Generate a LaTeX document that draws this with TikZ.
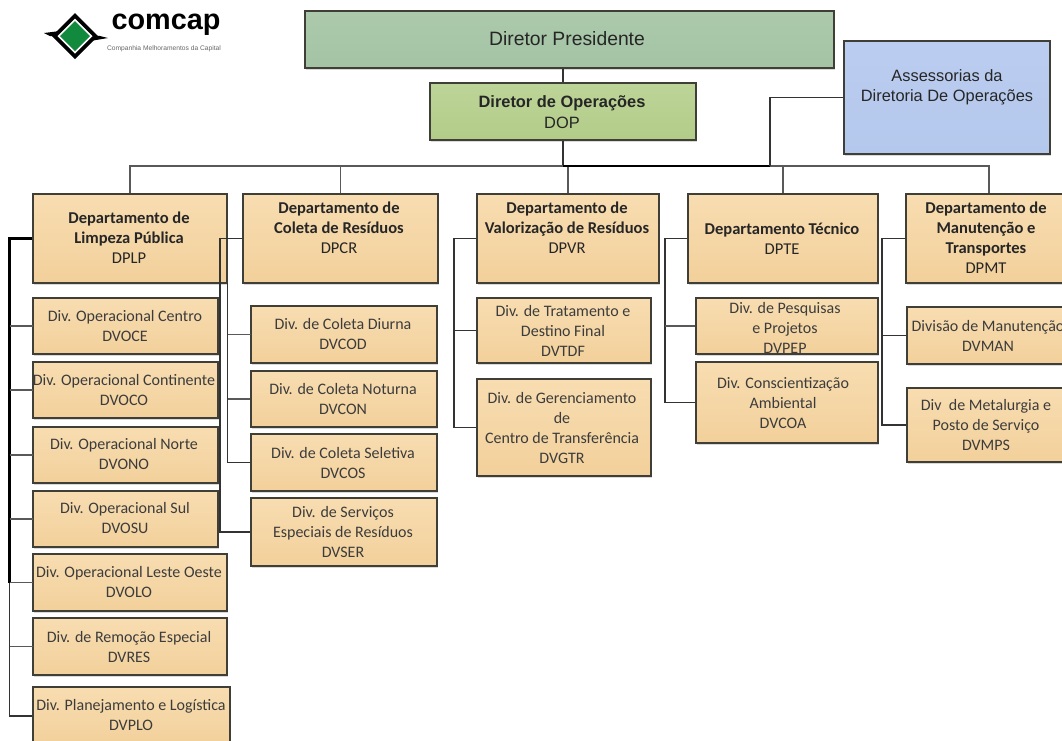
\documentclass[tikz,border=0pt]{standalone}
\usepackage{fontspec}
\setmainfont{Carlito}
\newfontfamily\arialfont{Liberation Sans}
\usetikzlibrary{fit,positioning,shadows}
\definecolor{tanT}{HTML}{F8DDB1}
\definecolor{tanM}{HTML}{F5D6A5}
\definecolor{tanB}{HTML}{F2D09B}
\definecolor{presT}{HTML}{ACC9AC}
\definecolor{presB}{HTML}{A4C3A4}
\definecolor{dopT}{HTML}{BDD498}
\definecolor{dopB}{HTML}{B2CC88}
\definecolor{assT}{HTML}{BBCDF0}
\definecolor{assB}{HTML}{B4C8ED}
\definecolor{logogreen}{HTML}{128A3E}
\definecolor{edgegray}{HTML}{3F3F38}
\definecolor{txtgray}{HTML}{3C3C3C}
\tikzset{
  orgbox/.style={draw=edgegray, line width=1.4pt, inner sep=0pt,
    drop shadow={shadow xshift=1pt, shadow yshift=-1.6pt, opacity=0.3}},
  tanbox/.style={orgbox, top color=tanT, middle color=tanM, bottom color=tanB},
  presbox/.style={orgbox, top color=presT, bottom color=presB},
  dopbox/.style={orgbox, top color=dopT, bottom color=dopB},
  assbox/.style={orgbox, top color=assT, bottom color=assB},
  deptxt/.style={align=center, inner sep=0pt, text=black!85, font=\fontsize{12.4}{15}\selectfont\bfseries},
  divtxt/.style={align=center, inner sep=0pt, text=txtgray, font=\fontsize{12}{15}\selectfont},
  toptxt/.style={align=center, inner sep=0pt, text=black!85, font=\arialfont\fontsize{12.3}{15.2}\selectfont},
  link/.style={draw=black!80, line width=1pt},
  thinlink/.style={draw=black!65, line width=1pt},
  boldlink/.style={draw=black, line width=1.9pt}
}
\begin{document}
\begin{tikzpicture}[x=0.75pt,y=-0.75pt]
\clip (0,0) rectangle (1062,740);
% logo
\fill[black] (44,33) -- (60,31) -- (60,37) -- (50,36) -- cycle;
\fill[black] (108,38) -- (90,41) -- (90,35) -- (100,36) -- cycle;
\fill[black] (75,13) -- (98,36) -- (75,59) -- (52,36) -- cycle;
\fill[white] (75,18.5) -- (92.5,36) -- (75,53.5) -- (57.5,36) -- cycle;
\fill[logogreen] (75,21) -- (90,36) -- (75,51) -- (60,36) -- cycle;
\node[inner sep=0pt, font=\arialfont\fontsize{21.6}{22}\selectfont\bfseries] (comcap) at (166,25) {comcap};
\node[inner sep=0pt, text=black!60, font=\arialfont\fontsize{5}{6}\selectfont] (capital) at (164,49) {Companhia Melhoramentos da Capital};
% nodes
\node[presbox, fit={(305,11)(834,68)}] (pres) {};
\node[dopbox, fit={(430,83)(696,140)}] (dop) {};
\node[assbox, fit={(844,41)(1050,154)}] (ass) {};
\node[tanbox, fit={(33,194)(227,283)}] (dplp) {};
\node[tanbox, fit={(243,194)(438,283)}] (dpcr) {};
\node[tanbox, fit={(477,194)(659,283)}] (dpvr) {};
\node[tanbox, fit={(688,194)(878,283)}] (dpte) {};
\node[tanbox, fit={(906,194)(1072,283)}] (dpmt) {};
\node[tanbox, fit={(33,298)(218,354)}] (dvoce) {};
\node[tanbox, fit={(33,362)(218,418)}] (dvoco) {};
\node[tanbox, fit={(33,427)(218,483)}] (dvono) {};
\node[tanbox, fit={(33,491)(218,547)}] (dvosu) {};
\node[tanbox, fit={(33,554)(227,611)}] (dvolo) {};
\node[tanbox, fit={(33,618)(227,675)}] (dvres) {};
\node[tanbox, fit={(33,687)(230,745)}] (dvplo) {};
\node[tanbox, fit={(251,306)(437,363)}] (dvcod) {};
\node[tanbox, fit={(251,371)(437,427)}] (dvcon) {};
\node[tanbox, fit={(251,434)(437,491)}] (dvcos) {};
\node[tanbox, fit={(251,498)(437,566)}] (dvser) {};
\node[tanbox, fit={(477,298)(651,363)}] (dvtdf) {};
\node[tanbox, fit={(477,379)(651,476)}] (dvgtr) {};
\node[tanbox, fit={(696,298)(878,354)}] (dvpep) {};
\node[tanbox, fit={(696,362)(878,443)}] (dvcoa) {};
\node[tanbox, fit={(907,307)(1072,364)}] (dvman) {};
\node[tanbox, fit={(907,388)(1072,462)}] (dvmps) {};
% trunks
\coordinate (bus) at (563,166);
\coordinate (assbus) at (770,166);
\coordinate (limp) at (9.5,238);
\coordinate (cole) at (220,238);
\coordinate (colb) at (227.5,283);
\coordinate (valo) at (454,238);
\coordinate (tecn) at (665,238);
\coordinate (manu) at (882,238);
\coordinate (lowlimp) at (9.5,583);
% edges
\draw[link] (pres.south -| bus) -- (dop.north -| bus);
\draw[link] (dop.south -| bus) -- (bus);
\draw[thinlink] (bus) -| (dplp.north);
\draw[thinlink] (bus) -| (dpmt.north);
\draw[thinlink] (dpcr.north) -- (dpcr.north |- bus);
\draw[thinlink] (dpvr.north) -- (dpvr.north |- bus);
\draw[thinlink] (dpte.north) -- (dpte.north |- bus);
\draw[boldlink, line width=1.2pt] (bus) -- (assbus);
\draw[link] (ass.west) -| (assbus);
\draw[boldlink] (dplp.west) -| (lowlimp);
\draw[link] (lowlimp) |- (dvplo.west);
\foreach \u in {dvoce,dvoco,dvono,dvosu,dvolo,dvres}
  \draw[thinlink] (limp |- \u.west) -- ([xshift=1pt]\u.west);
\draw[link] (dpcr.west) -| (cole |- dvser.west) -- (dvser.west);
\draw[link] (colb) |- (dvcos.west);
\draw[thinlink] (colb |- dvcod.west) -- ([xshift=1pt]dvcod.west);
\draw[thinlink] (colb |- dvcon.west) -- (dvcon.west);
\draw[link] (dpvr.west) -| (valo |- dvgtr.west) -- (dvgtr.west);
\draw[link] (valo |- dvtdf.west) -- (dvtdf.west);
\draw[link] (dpte.west) -| (tecn |- dvcoa.west) -- (dvcoa.west);
\draw[thinlink] (tecn |- dvpep.west) -- (dvpep.west);
\draw[link] (dpmt.west) -| (manu |- dvmps.west) -- (dvmps.west);
\draw[link] (manu |- dvman.west) -- (dvman.west);
% labels
\node[toptxt, font=\arialfont\fontsize{14.5}{16}\selectfont] (prestxt) at (567,39) {Diretor Presidente};
\node[toptxt] (doptxt) at (562,112) {\textbf{Diretor de Operações}\\DOP};
\node[toptxt] (asstxt) at (947,87) {Assessorias da\\Diretoria De Operações};
\node[deptxt] (dplptxt) at (129,238) {Departamento de\\Limpeza Pública\\\mdseries DPLP};
\node[deptxt] (dpcrtxt) at (339,228) {Departamento de\\Coleta de Resíduos\\\mdseries DPCR};
\node[deptxt] (dpvrtxt) at (567,228) {Departamento de\\Valorização de Resíduos\\\mdseries DPVR};
\node[deptxt] (dptetxt) at (782,239) {Departamento Técnico\\\mdseries DPTE};
\node[deptxt] (dpmttxt) at (986,238) {Departamento de\\Manutenção e\\Transportes\\\mdseries DPMT};
\node[divtxt] (dvocetxt) at (125,326) {Div. Operacional Centro\\DVOCE};
\node[divtxt] (dvocotxt) at (124,390) {Div. Operacional Continente\\DVOCO};
\node[divtxt] (dvonotxt) at (124,454) {Div. Operacional Norte\\DVONO};
\node[divtxt] (dvosutxt) at (125,518) {Div. Operacional Sul\\DVOSU};
\node[divtxt] (dvolotxt) at (129,582) {Div. Operacional Leste Oeste\\DVOLO};
\node[divtxt] (dvrestxt) at (129,647) {Div. de Remoção Especial\\DVRES};
\node[divtxt] (dvplotxt) at (131,715) {Div. Planejamento e Logística\\DVPLO};
\node[divtxt] (dvcodtxt) at (343,334) {Div. de Coleta Diurna\\DVCOD};
\node[divtxt] (dvcontxt) at (343,399) {Div. de Coleta Noturna\\DVCON};
\node[divtxt] (dvcostxt) at (343,463) {Div. de Coleta Seletiva\\DVCOS};
\node[divtxt] (dvsertxt) at (343,532) {Div. de Serviços\\Especiais de Resíduos\\DVSER};
\node[divtxt] (dvtdftxt) at (563,331) {Div. de Tratamento e\\Destino Final\\DVTDF};
\node[divtxt] (dvgtrtxt) at (562,428) {Div. de Gerenciamento\\de\\Centro de Transferência\\DVGTR};
\node[divtxt] (dvpeptxt) at (785,328) {Div. de Pesquisas\\e Projetos\\DVPEP};
\node[divtxt] (dvcoatxt) at (783,403) {Div. Conscientização\\Ambiental\\DVCOA};
\node[divtxt] (dvmantxt) at (988,336) {Divisão de Manutenção\\DVMAN};
\node[divtxt] (dvmpstxt) at (986,425) {Div\ \ de Metalurgia e\\Posto de Serviço\\DVMPS};
\end{tikzpicture}
\end{document}
